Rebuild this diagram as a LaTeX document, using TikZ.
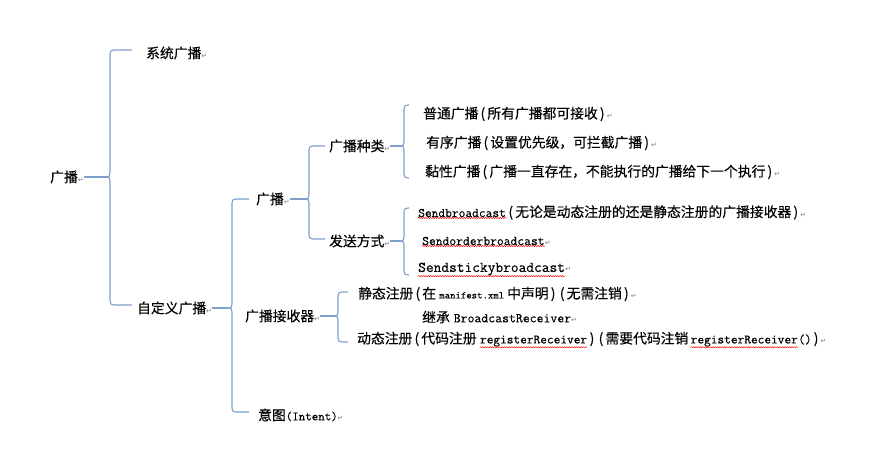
\documentclass[tikz,border=0pt]{standalone}
\usepackage{fontspec}
\usepackage{xcolor}
\usepackage{tikz}
\usetikzlibrary{decorations.pathmorphing}
\setmainfont{Noto Sans CJK SC}[FakeBold=0.25]
\setmonofont{Latin Modern Mono}[FakeBold=0.3]
\newfontfamily\retfont{DejaVu Sans}
\definecolor{brcol}{RGB}{128,160,204}
\definecolor{retcol}{RGB}{125,125,125}
\newcommand\cjksz{\fontsize{13.8}{15}\selectfont}
\newcommand\mono[2]{{\ttfamily\fontsize{#1}{#1}\selectfont #2}}
\newcommand\lp{\makebox[9pt][c]{(}}
\newcommand\rp{\makebox[9pt][c]{)}}
\newcommand\ret{{\retfont\fontsize{7}{8}\selectfont\textcolor{retcol}{↵}}}
% parent, x, top, tip, bottom, hook end
\newcommand\wbrace[6]{%
  \draw[brc] (#6,#3) -- (#2+4,#3) .. controls (#2+1,#3) and (#2,#3+1) .. (#2,#3+4)
    -- (#2,#4-4) .. controls (#2,#4-1) and (#2-1,#4) .. (#2-3,#4)
    .. controls (#2-1,#4) and (#2,#4+1) .. (#2,#4+4)
    -- (#2,#5-4) .. controls (#2,#5-1) and (#2+1,#5) .. (#2+4,#5) -- (#6,#5);
  \draw[brc] (#1.east) -- (#2-3,#4);}
\tikzset{
  lbl/.style={anchor=west, inner sep=0pt, font=\cjksz, text=black},
  cont/.style={anchor=base west, inner sep=0pt, font=\cjksz, text=black},
  brc/.style={draw=brcol, line width=1.1pt, line join=round},
  wave/.style={draw=red, line width=0.45pt, decorate,
    decoration={snake, amplitude=0.65pt, segment length=2.4pt}}
}

\begin{document}
\begin{tikzpicture}[x=1pt,y=-1pt]
  \useasboundingbox (0,0) rectangle (881,470);
  \fill[white] (0,0) rectangle (881,470);
  % first level
  \node[lbl] (root) at (50,177) {广播\ret};
  \node[lbl] (sys) at (146,53) {系统广播\ret};
  \node[lbl] (cust) at (137,308) {自定义广播\ret};
  \wbrace{root}{110}{50}{177}{305}{132}
  % custom broadcast
  \node[lbl] (bc) at (256,199) {广播\ret};
  \node[lbl] (rcv) at (245,316) {广播接收器\ret};
  \node[lbl] (intent) at (258,415) {意图\mono{12.6}{(Intent)}\ret};
  \wbrace{cust}{232}{199}{308}{412}{249}
  % broadcast
  \node[lbl] (kind) at (329,146) {广播种类\ret};
  \node[lbl] (send) at (329,241) {发送方式\ret};
  \wbrace{bc}{309}{146}{199}{239}{325}
  \node[lbl] (k1) at (423,114) {普通广播\lp 所有广播都可接收\rp\ret};
  \node[lbl] (k2) at (426,143) {有序广播\lp 设置优先级，可拦截广播\rp\ret};
  \node[lbl] (k3) at (425,172) {黏性广播\lp 广播一直存在，不能执行的广播给下一个执行\rp\ret};
  \wbrace{kind}{404}{105}{146}{178}{409}
  \node[lbl, font=\ttfamily\fontsize{13.1}{14}\selectfont] (s1) at (418,213) {Sendbroadcast};
  \node[cont] (s1t) at (s1.base east) {\lp 无论是动态注册的还是静态注册的广播接收器\rp\ret};
  \node[lbl, font=\ttfamily\fontsize{13.2}{14}\selectfont] (s2) at (422,241) {Sendorderbroadcast};
  \node[cont] (s2t) at (s2.base east) {\ret};
  \node[lbl, font=\ttfamily\fontsize{15}{16}\selectfont] (s3) at (418,269) {Sendstickybroadcast};
  \node[cont] (s3t) at (s3.base east) {\ret};
  \wbrace{send}{404}{208}{241}{275}{409}
  \foreach \w in {s1,s2,s3}
    \draw[wave] ([yshift=-0.6pt]\w.south west) -- ([yshift=-0.6pt]\w.south east);
  % receiver
  \node[lbl] (r1) at (358,294) {静态注册\lp 在 \mono{10.3}{manifest.xml} 中声明\rp\lp 无需注销\rp\ret};
  \node[lbl] (r2) at (422,317) {继承\kern4pt\mono{13.4}{BroadcastReceiver}\ret};
  \node[lbl] (r3) at (357,339) {动态注册\lp 代码注册\kern3pt};
  \node[cont, font=\ttfamily\fontsize{13}{14}\selectfont] (rr1) at (r3.base east) {registerReceiver};
  \node[cont] (r3b) at (rr1.base east) {\rp\lp 需要代码注销\kern2pt};
  \node[cont, font=\ttfamily\fontsize{13}{14}\selectfont] (rr2) at (r3b.base east) {registerReceiver};
  \node[cont] (r3c) at (rr2.base east) {\mono{13}{()}\rp\ret};
  \foreach \w in {rr1,rr2}
    \draw[wave] ([yshift=-0.6pt]\w.south west) -- ([yshift=-0.6pt]\w.south east);
  \wbrace{rcv}{338}{292}{316}{342}{348}
\end{tikzpicture}
\end{document}
